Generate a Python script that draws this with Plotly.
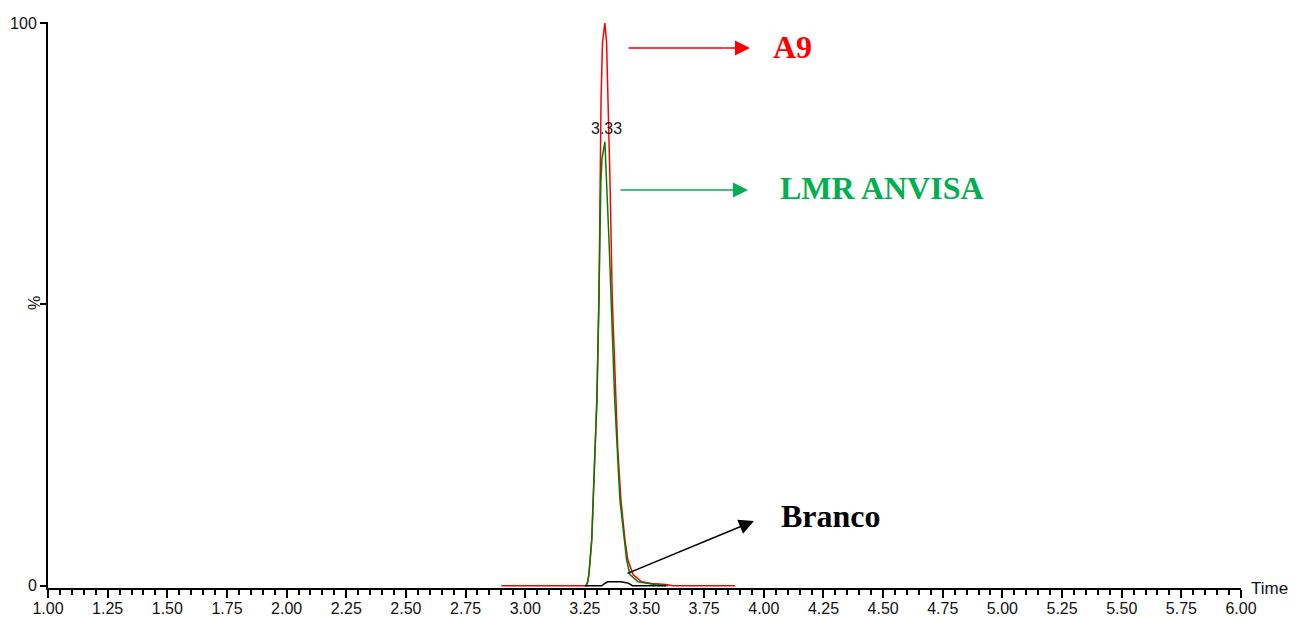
import plotly.graph_objects as go

# ---- data ----
red_time = [2.90, 3.20, 3.255, 3.262, 3.267, 3.272, 3.279, 3.285, 3.293, 3.300, 3.309,
            3.313, 3.318, 3.324, 3.334, 3.341, 3.348, 3.355, 3.365, 3.379, 3.388, 3.401,
            3.418, 3.430, 3.452, 3.488, 3.53, 3.59, 3.62, 3.88]
red_val = [0, 0, 0, 0.7, 2.0, 4.6, 8.2, 15.3, 24.2, 33.1, 50.9,
           72.8, 86.5, 96.6, 100, 96.6, 86.5, 72.8, 50.9, 33.1, 24.2, 15.3,
           8.2, 4.6, 2.0, 0.7, 0.4, 0.2, 0, 0]

green_time = [3.255, 3.262, 3.267, 3.272, 3.279, 3.285, 3.293, 3.301, 3.309, 3.313, 3.317,
              3.322, 3.334, 3.337, 3.341, 3.344, 3.352, 3.361, 3.368, 3.375, 3.397, 3.425,
              3.439, 3.473, 3.53, 3.60]
green_val = [0, 0.7, 2.0, 4.6, 8.2, 15.3, 24.2, 33.1, 50.9, 64.0, 71.5,
             76.0, 78.9, 75.8, 72.8, 68.7, 60.5, 50.9, 42.0, 33.1, 15.3, 4.6,
             2.0, 0.7, 0.3, 0]

black_time = [3.25, 3.32, 3.33, 3.345, 3.40, 3.43, 3.45, 3.59]
black_val = [0, 0, 0.3, 0.7, 0.7, 0.5, 0, 0]

x_ticks_start, x_ticks_end, x_major_step, x_minor_step = 1.0, 6.0, 0.25, 0.05
y_tick_vals = [0, 50, 100]
y_tick_text = ["0", "", "100"]

peak_label = "3.33"
peak_time = 3.334
peak_val = 78.9

sans = "Liberation Sans, Arial, sans-serif"
serif = "Liberation Serif, Times New Roman, serif"

fig = go.Figure()
fig.add_trace(go.Scatter(x=red_time, y=red_val, mode="lines",
                         line=dict(color="#ff0000", width=1.5), name="A9"))
fig.add_trace(go.Scatter(x=green_time, y=green_val, mode="lines",
                         line=dict(color="#008000", width=1.5), name="LMR ANVISA"))
fig.add_trace(go.Scatter(x=black_time, y=black_val, mode="lines",
                         line=dict(color="#000000", width=1.5), name="Branco"))

W, H = 1299, 617
L, R, T, B = 48, 58, 22, 29
pw, ph = W - L - R, H - T - B

def px(xp):
    return (xp - L) / pw

def py(yp):
    return (H - B - yp) / ph

annotations = []
# peak label
annotations.append(dict(x=peak_time, y=peak_val, xref="x", yref="y", text=peak_label,
                        showarrow=False, yshift=13, xshift=2,
                        font=dict(family=sans, size=16, color="#1a1a1a")))
# % axis title
annotations.append(dict(x=px(34), y=py(303), xref="paper", yref="paper", text="%",
                        showarrow=False, textangle=-90, xanchor="center", yanchor="middle",
                        font=dict(family=sans, size=16, color="#111")))
# Time label
annotations.append(dict(x=px(1249), y=py(588), xref="paper", yref="paper", text="Time",
                        showarrow=False, xanchor="left", yanchor="middle",
                        font=dict(family=sans, size=17, color="#111")))

def arrow_label(text, color, tx, ty, tip, tail):
    annotations.append(dict(x=px(tx), y=py(ty), xref="paper", yref="paper", text="<b>%s</b>" % text,
                            showarrow=False, xanchor="left", yanchor="middle",
                            font=dict(family=serif, size=32, color=color)))
    annotations.append(dict(x=px(tip[0]), y=py(tip[1]), xref="paper", yref="paper", text="",
                            showarrow=True, arrowhead=2, arrowsize=2, arrowwidth=1.5,
                            arrowcolor=color, ax=tail[0] - tip[0], ay=tail[1] - tip[1],
                            axref="pixel", ayref="pixel", standoff=0))

arrow_label("A9", "#ff0000", 771, 47, (750, 48), (627, 48))
arrow_label("LMR ANVISA", "#00b050", 778, 188, (748, 190), (619, 190))
arrow_label("Branco", "#000000", 779, 516, (754, 521), (626, 574))

fig.update_layout(
    width=W, height=H,
    margin=dict(l=L, r=R, t=T, b=B, pad=0, autoexpand=False),
    paper_bgcolor="white", plot_bgcolor="white",
    showlegend=False,
    annotations=annotations,
    xaxis=dict(range=[x_ticks_start, x_ticks_end], tick0=x_ticks_start, dtick=x_major_step,
               tickformat=".2f", showgrid=False, zeroline=False, automargin=False,
               showline=True, linecolor="black", linewidth=2,
               ticks="outside", ticklen=8, tickwidth=1.5, tickcolor="black",
               ticklabelstandoff=-3,
               tickfont=dict(family=sans, size=16, color="#111"),
               minor=dict(tick0=x_ticks_start, dtick=x_minor_step, ticks="outside",
                          ticklen=5, tickwidth=1.5, tickcolor="black", showgrid=False)),
    yaxis=dict(range=[-0.4, 100.2], tickvals=y_tick_vals, ticktext=y_tick_text,
               showgrid=False, zeroline=False, automargin=False,
               showline=True, linecolor="black", linewidth=2,
               ticks="outside", ticklen=6, tickwidth=1.5, tickcolor="black",
               tickfont=dict(family=sans, size=16, color="#111")),
)

fig.write_html("out.html")
